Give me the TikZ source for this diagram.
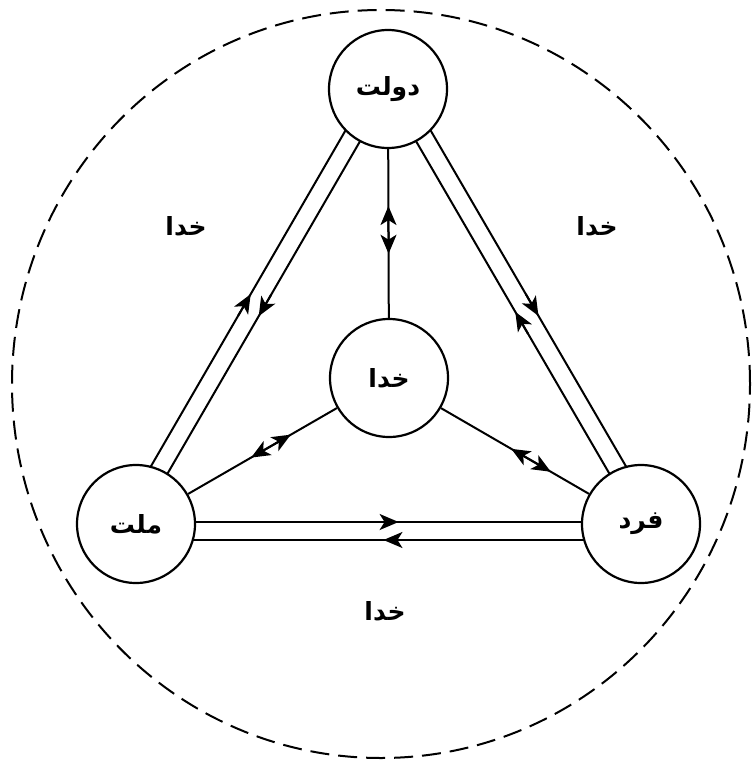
\documentclass[tikz,border=0pt]{standalone}
\usepackage{fontspec}
\newfontfamily\arabicfont[Script=Arabic]{DejaVu Sans}
\TeXXeTstate=1
\usetikzlibrary{arrows.meta,calc,backgrounds}
\begin{document}
\begin{tikzpicture}[x=0.5pt,y=-0.5pt,
  tip/.tip={Stealth[length=9.5pt,width=8pt,inset=2.5pt]},
  actor/.style={circle,draw,line width=1.1pt,fill=white,inner sep=0pt,minimum size=59pt,
    font=\arabicfont\bfseries\fontsize{12.5}{15}\selectfont},
  lbl/.style={inner sep=1pt,font=\arabicfont\bfseries\fontsize{12.5}{15}\selectfont},
  ln/.style={line width=1pt},
  head/.style={line width=1pt,-{tip}},
  twohead/.style={line width=1pt,{tip}-{tip}},
  outer/.style={line width=1pt,dash pattern=on 9.5pt off 4.5pt}]
\useasboundingbox (0,0) rectangle (752,765);
\draw[outer] (381,384) ellipse [x radius=184.5pt, y radius=187pt];
% actors
\node[actor] (D) at (388,89) {\beginR دولت\endR};
\node[actor] (K) at (389,378) {\beginR خدا\endR};
\node[actor] (M) at (136,524) {\beginR ملت\endR};
\node[actor] (F) at (641,524) {\beginR فرد\endR};
% outer labels
\node[lbl] (L1) at (186,226) {\beginR خدا\endR};
\node[lbl] (L2) at (597,226) {\beginR خدا\endR};
\node[lbl] (L3) at (385,611) {\beginR خدا\endR};
% ends of the parallel links
\coordinate (MDo) at ($(M)!8pt!90:(D)$);   \coordinate (DMo) at ($(D)!8pt!-90:(M)$);
\coordinate (DMi) at ($(D)!1pt!90:(M)$);   \coordinate (MDi) at ($(M)!1pt!-90:(D)$);
\coordinate (DFo) at ($(D)!8pt!90:(F)$);   \coordinate (FDo) at ($(F)!8pt!-90:(D)$);
\coordinate (FDi) at ($(F)!1pt!90:(D)$);   \coordinate (DFi) at ($(D)!1pt!-90:(F)$);
\coordinate (MFi) at ($(M)!1pt!90:(F)$);   \coordinate (FMi) at ($(F)!1pt!-90:(M)$);
\coordinate (FMo) at ($(F)!8pt!90:(M)$);   \coordinate (MFo) at ($(M)!8pt!-90:(F)$);
\begin{scope}[on background layer]
  % centre links, two-way
  \draw[ln] (D) -- (K);
  \draw[ln] (M) -- (K);
  \draw[ln] (F) -- (K);
  \draw[twohead] ($(D)!0.405!(K)$) -- ($(D)!0.57!(K)$);
  \draw[twohead] ($(M)!0.455!(K)$) -- ($(M)!0.612!(K)$);
  \draw[twohead] ($(K)!0.485!(F)$) -- ($(K)!0.642!(F)$);
  % left pair
  \draw[ln] (MDo) -- (DMo);
  \draw[ln] (DMi) -- (MDi);
  \draw[head] ($(MDo)!0.46!(DMo)$) -- ($(MDo)!0.51!(DMo)$);
  \draw[head] ($(DMi)!0.47!(MDi)$) -- ($(DMi)!0.52!(MDi)$);
  % right pair
  \draw[ln] (DFo) -- (FDo);
  \draw[ln] (FDi) -- (DFi);
  \draw[head] ($(DFo)!0.49!(FDo)$) -- ($(DFo)!0.54!(FDo)$);
  \draw[head] ($(FDi)!0.44!(DFi)$) -- ($(FDi)!0.49!(DFi)$);
  % bottom pair
  \draw[ln] (MFi) -- (FMi);
  \draw[ln] (FMo) -- (MFo);
  \draw[head] ($(MFi)!0.47!(FMi)$) -- ($(MFi)!0.52!(FMi)$);
  \draw[head] ($(FMo)!0.46!(MFo)$) -- ($(FMo)!0.51!(MFo)$);
\end{scope}
\end{tikzpicture}
\end{document}
